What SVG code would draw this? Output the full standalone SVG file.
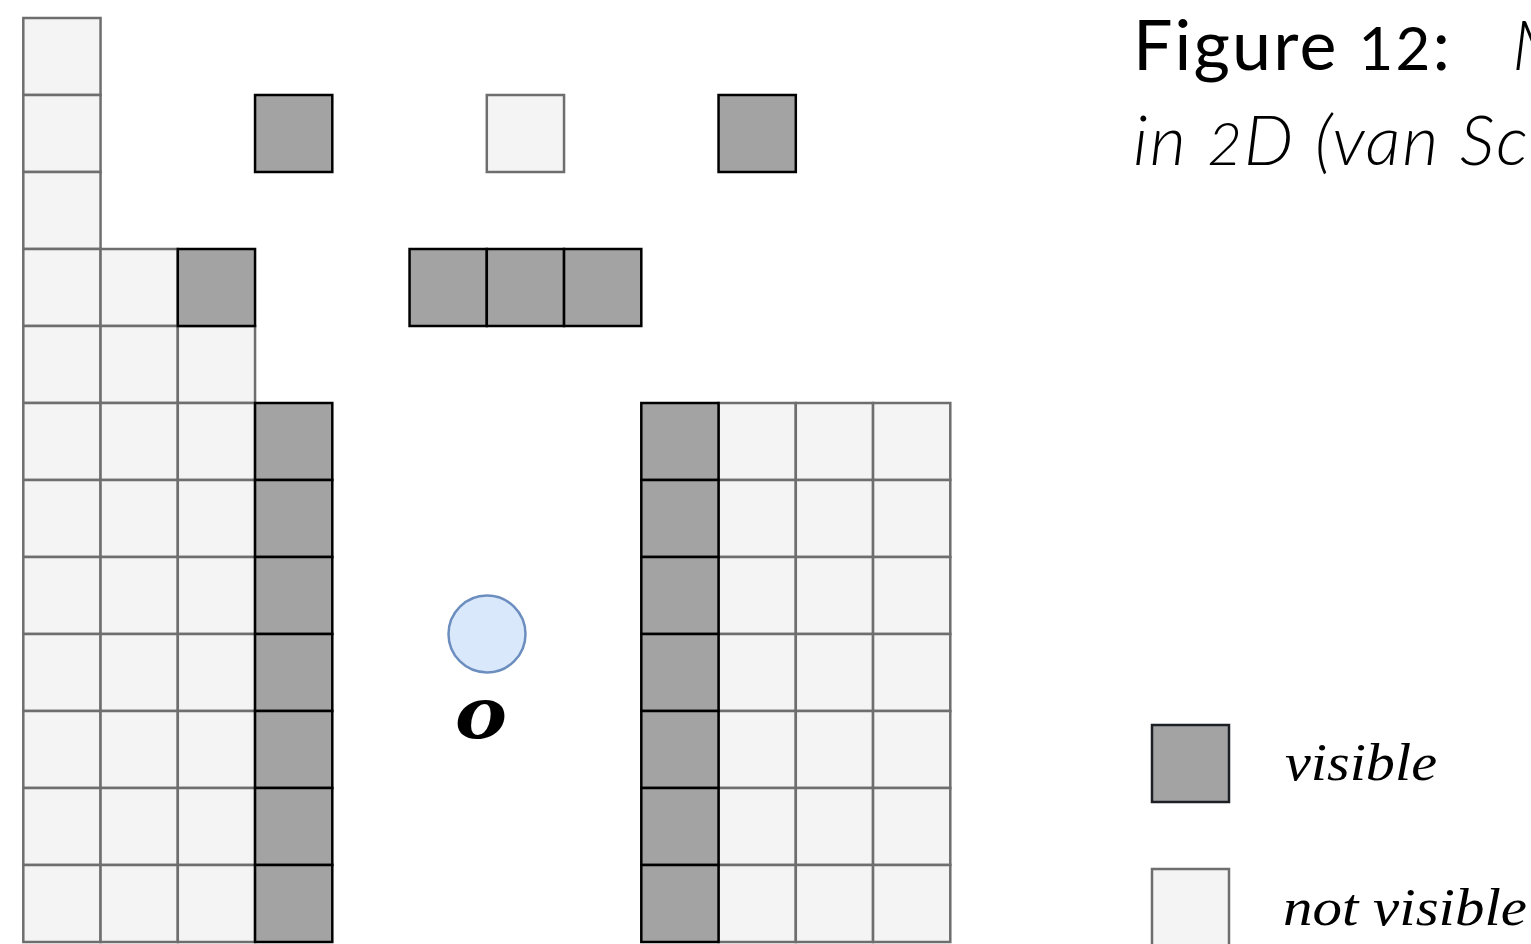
<svg xmlns="http://www.w3.org/2000/svg" width="1531" height="944" viewBox="0 0 1531 944">
<style>
.l{fill:#f4f4f4;stroke:#6e6e6e;stroke-width:2.5}
.d{fill:#a3a3a3;stroke:#000;stroke-width:2.5}
.math{font-family:"Liberation Serif","DejaVu Serif",serif;font-style:italic}
.cap{font-family:Lato,"Open Sans",sans-serif;fill:#000}
</style>
<defs>
<rect id="c" width="77.25" height="77"/>
</defs>
<g id="grid-light">
<use href="#c" class="l" x="23.3" y="18"/>
<use href="#c" class="l" x="23.3" y="95"/>
<use href="#c" class="l" x="486.8" y="95"/>
<use href="#c" class="l" x="23.3" y="172"/>
<use href="#c" class="l" x="23.3" y="249"/>
<use href="#c" class="l" x="100.55" y="249"/>
<use href="#c" class="l" x="23.3" y="326"/>
<use href="#c" class="l" x="100.55" y="326"/>
<use href="#c" class="l" x="177.8" y="326"/>
<g id="left-light-block">
<use href="#c" class="l" x="23.3" y="403"/><use href="#c" class="l" x="100.55" y="403"/><use href="#c" class="l" x="177.8" y="403"/>
<use href="#c" class="l" x="23.3" y="480"/><use href="#c" class="l" x="100.55" y="480"/><use href="#c" class="l" x="177.8" y="480"/>
<use href="#c" class="l" x="23.3" y="557"/><use href="#c" class="l" x="100.55" y="557"/><use href="#c" class="l" x="177.8" y="557"/>
<use href="#c" class="l" x="23.3" y="634"/><use href="#c" class="l" x="100.55" y="634"/><use href="#c" class="l" x="177.8" y="634"/>
<use href="#c" class="l" x="23.3" y="711"/><use href="#c" class="l" x="100.55" y="711"/><use href="#c" class="l" x="177.8" y="711"/>
<use href="#c" class="l" x="23.3" y="788"/><use href="#c" class="l" x="100.55" y="788"/><use href="#c" class="l" x="177.8" y="788"/>
<use href="#c" class="l" x="23.3" y="865"/><use href="#c" class="l" x="100.55" y="865"/><use href="#c" class="l" x="177.8" y="865"/>
</g>
<g id="right-light-block">
<use href="#c" class="l" x="718.55" y="403"/><use href="#c" class="l" x="795.8" y="403"/><use href="#c" class="l" x="873.05" y="403"/>
<use href="#c" class="l" x="718.55" y="480"/><use href="#c" class="l" x="795.8" y="480"/><use href="#c" class="l" x="873.05" y="480"/>
<use href="#c" class="l" x="718.55" y="557"/><use href="#c" class="l" x="795.8" y="557"/><use href="#c" class="l" x="873.05" y="557"/>
<use href="#c" class="l" x="718.55" y="634"/><use href="#c" class="l" x="795.8" y="634"/><use href="#c" class="l" x="873.05" y="634"/>
<use href="#c" class="l" x="718.55" y="711"/><use href="#c" class="l" x="795.8" y="711"/><use href="#c" class="l" x="873.05" y="711"/>
<use href="#c" class="l" x="718.55" y="788"/><use href="#c" class="l" x="795.8" y="788"/><use href="#c" class="l" x="873.05" y="788"/>
<use href="#c" class="l" x="718.55" y="865"/><use href="#c" class="l" x="795.8" y="865"/><use href="#c" class="l" x="873.05" y="865"/>
</g>
</g>
<g id="grid-dark">
<use href="#c" class="d" x="255.05" y="95"/>
<use href="#c" class="d" x="718.55" y="95"/>
<use href="#c" class="d" x="177.8" y="249"/>
<use href="#c" class="d" x="409.55" y="249"/>
<use href="#c" class="d" x="486.8" y="249"/>
<use href="#c" class="d" x="564.05" y="249"/>
<g id="left-wall">
<use href="#c" class="d" x="255.05" y="403"/><use href="#c" class="d" x="255.05" y="480"/><use href="#c" class="d" x="255.05" y="557"/><use href="#c" class="d" x="255.05" y="634"/><use href="#c" class="d" x="255.05" y="711"/><use href="#c" class="d" x="255.05" y="788"/><use href="#c" class="d" x="255.05" y="865"/>
</g>
<g id="right-wall">
<use href="#c" class="d" x="641.3" y="403"/><use href="#c" class="d" x="641.3" y="480"/><use href="#c" class="d" x="641.3" y="557"/><use href="#c" class="d" x="641.3" y="634"/><use href="#c" class="d" x="641.3" y="711"/><use href="#c" class="d" x="641.3" y="788"/><use href="#c" class="d" x="641.3" y="865"/>
</g>
</g>
<g id="observer">
<circle cx="487" cy="634" r="38.5" fill="#dae8fc" stroke="#6c8ebf" stroke-width="2.5"/>
<text transform="translate(482 738) scale(1.3 1)" text-anchor="middle" class="math" font-weight="bold" font-size="80">o</text>
</g>
<g id="legend">
<rect x="1152" y="725" width="77" height="77" fill="#a3a3a3" stroke="#1c2024" stroke-width="2.5"/>
<text x="1285" y="780" class="math" font-size="52" textLength="152" lengthAdjust="spacingAndGlyphs">visible</text>
<rect x="1152" y="869" width="77" height="77" class="l"/>
<text x="1283" y="925" class="math" font-size="52" textLength="244" lengthAdjust="spacingAndGlyphs">not visible</text>
</g>
<g id="caption">
<text x="1133" y="70" class="cap" font-size="70" textLength="317" lengthAdjust="spacing">Figure <tspan font-size="60">12</tspan>:</text>
<text x="1512" y="70" class="cap" font-size="70" font-style="italic" font-weight="300">M</text>
<text x="1133" y="165" class="cap" font-size="70" font-style="italic" font-weight="300" textLength="395" lengthAdjust="spacing">in <tspan font-size="60">2</tspan>D (van Sc</text>
</g>
</svg>
